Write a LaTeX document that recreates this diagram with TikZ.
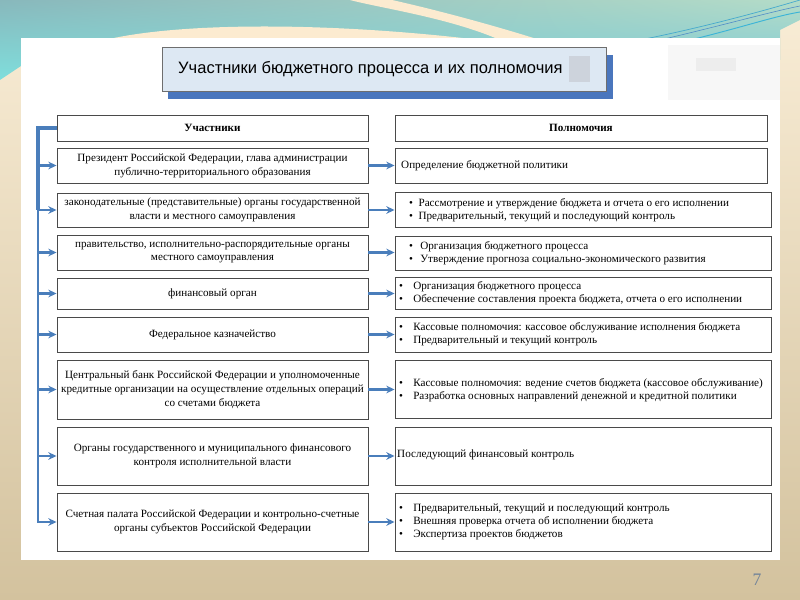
\documentclass[tikz,border=0pt]{standalone}
\usepackage{fontspec}
\setmainfont{Liberation Serif}
\newfontfamily\titlefont{Liberation Sans}
\usetikzlibrary{arrows.meta,fit,shadings}
\definecolor{arrowblue}{HTML}{4A7EBB}
\definecolor{boxgrey}{HTML}{4A4A4A}
\definecolor{cream}{HTML}{FCEBD0}
\definecolor{bgtop}{HTML}{F9EDD6}
\definecolor{bgbot}{HTML}{D3C29E}
\definecolor{titlefill}{HTML}{DDE8F3}
\definecolor{titleshadow}{HTML}{4A76BD}
\definecolor{titleborder}{HTML}{6E6E6E}
\definecolor{pagenum}{HTML}{6F8299}
\definecolor{tealUL}{HTML}{88B8BC}
\definecolor{tealUR}{HTML}{B4DCC8}
\definecolor{tealLL}{HTML}{7FDEDC}
\definecolor{tealLR}{HTML}{7CC9D6}
\definecolor{lineA}{HTML}{46AACD}
\definecolor{lineB}{HTML}{508CC8}
\definecolor{lineC}{HTML}{3CB4D7}
\definecolor{markgrey}{HTML}{CDD3DC}
\newcommand{\bodyfont}{\fontsize{9.5}{11.2}\selectfont}
\newcommand{\leftfont}{\fontsize{9.5}{11.8}\selectfont}
\newcommand{\bulA}{\makebox[8pt][l]{•}}
\newcommand{\bulB}{\makebox[12pt][l]{•}}
\tikzset{
  box/.style={draw=boxgrey, line width=0.8pt, fill=white, inner sep=0pt},
  ltext/.style={inner sep=0pt, align=center, font=\leftfont},
  conn/.style={draw=arrowblue, line width=2pt, -{Stealth[length=7pt,width=6.5pt]}},
  busline/.style={draw=arrowblue, line width=2pt},
  rtext/.style={anchor=west, inner sep=0pt, align=left, font=\bodyfont},
}
\begin{document}
\begin{tikzpicture}[x=0.03cm,y=-0.03cm]
\useasboundingbox (0,0) rectangle (800,600);
% background
\shade[top color=bgtop, bottom color=bgbot] (0,0) rectangle (800,600);
\shade[upper left=tealUL, upper right=tealUR, lower left=tealLL, lower right=tealLR]
  (0,0) -- (800,0) -- (800,20) .. controls (792,24) .. (780,30) -- (780,60) -- (21,60) -- (21,66) -- (0,80) -- cycle;
\fill[cream] (105,40) .. controls (180,22) and (330,22) .. (480,40) -- cycle;
\fill[cream] (350,0) .. controls (380,8) and (450,18) .. (500,40) -- (540,40) .. controls (470,18) and (410,4) .. (392,0) -- cycle;
\draw[lineA, line width=0.6pt] (640,40) .. controls (700,28) and (760,12) .. (800,0);
\draw[lineB, line width=0.5pt] (660,40) .. controls (720,26) and (770,12) .. (800,6);
\draw[lineC, line width=0.8pt] (690,40) .. controls (740,28) and (775,16) .. (800,12);
% panel
\fill[white] (21,38) rectangle (780,560);
% blurred marks
\fill[gray!6] (668,45) rectangle (780,100);
\fill[gray!14] (696,58) rectangle (736,71);
% title
\fill[titleshadow] (168,55) rectangle (613,99);
\node[draw=titleborder, fill=titlefill, line width=0.8pt, inner sep=0pt, fit={(162,47) (606,91)}] (title) {};
\fill[markgrey] (569,56) rectangle (590,82);
\node[anchor=west, inner sep=0pt, font=\titlefont\fontsize{14.1}{16}\selectfont] (titletext) at (178,69.5) {Участники бюджетного процесса и их полномочия};
% left column
\node[box, fit={(57,115) (368,141)}] (l0) {};
\node[box, fit={(57,148) (368,183)}] (l1) {};
\node[box, fit={(57,193) (368,227)}] (l2) {};
\node[box, fit={(57,235) (368,270)}] (l3) {};
\node[box, fit={(57,278) (368,309)}] (l4) {};
\node[box, fit={(57,317) (368,352)}] (l5) {};
\node[box, fit={(57,360) (368,419)}] (l6) {};
\node[box, fit={(57,427) (368,485)}] (l7) {};
\node[box, fit={(57,493) (368,551)}] (l8) {};
\node[ltext, font=\leftfont\bfseries] (s0) at (l0.center) {Участники};
\node[ltext] (s1) at (l1.center) {Президент Российской Федерации, глава администрации\\публично-территориального образования};
\node[ltext] (s2) at (l2.center) {законодательные (представительные) органы государственной\\власти и местного самоуправления};
\node[ltext] (s3) at (l3.center) {правительство, исполнительно-распорядительные органы\\местного самоуправления};
\node[ltext] (s4) at (l4.center) {финансовый орган};
\node[ltext] (s5) at (l5.center) {Федеральное казначейство};
\node[ltext] (s6) at (l6.center) {Центральный банк Российской Федерации и уполномоченные\\кредитные организации на осуществление отдельных операций\\со счетами бюджета};
\node[ltext] (s7) at (l7.center) {Органы государственного и муниципального финансового\\контроля исполнительной власти};
\node[ltext] (s8) at (l8.center) {Счетная палата Российской Федерации и контрольно-счетные\\органы субъектов Российской Федерации};
% right column
\node[box, fit={(395,115) (767,141)}] (r0) {};
\node[box, fit={(395,148) (767,183)}] (r1) {};
\node[box, fit={(395,192) (771,227)}] (r2) {};
\node[box, fit={(395,236) (771,270)}] (r3) {};
\node[box, fit={(395,277) (771,309)}] (r4) {};
\node[box, fit={(395,317) (771,352)}] (r5) {};
\node[box, fit={(395,360) (771,418)}] (r6) {};
\node[box, fit={(395,427) (771,485)}] (r7) {};
\node[box, fit={(395,493) (771,551)}] (r8) {};
\node[ltext, font=\leftfont\bfseries] (t0) at (r0.center) {Полномочия};
\node[rtext] (t1) at (401,166) {Определение бюджетной политики};
\node[rtext] (t2) at (409,210) {\bulA Рассмотрение и утверждение бюджета и отчета о его исполнении\\\bulA Предварительный, текущий и последующий контроль};
\node[rtext] (t3) at (409,253.5) {\bulA\hspace{1.5pt}Организация бюджетного процесса\\\bulA\hspace{1.5pt}Утверждение прогноза социально-экономического развития};
\node[rtext] (t4) at (399,293) {\bulB Организация бюджетного процесса\\\bulB Обеспечение составления проекта бюджета, отчета о его исполнении};
\node[rtext] (t5) at (399,334) {\bulB Кассовые полномочия: кассовое обслуживание исполнения бюджета\\\bulB Предварительный и текущий контроль};
\node[rtext] (t6) at (399,390) {\bulB Кассовые полномочия: ведение счетов бюджета (кассовое обслуживание)\\\bulB Разработка основных направлений денежной и кредитной политики};
\node[rtext] (t7) at (397,455) {Последующий финансовый контроль};
\node[rtext] (t8) at (399,522) {\bulB Предварительный, текущий и последующий контроль\\\bulB Внешняя проверка отчета об исполнении бюджета\\\bulB Экспертиза проектов бюджетов};
% bus
\coordinate (bus) at (38,0);
\draw[busline, line width=3pt] (l0.west) -- (l0.west -| bus) -- (l2.west -| bus);
\draw[conn] (l0.west -| bus) -- (l8.west -| bus) -- (l8.west);
\foreach \i in {1,...,7} {\draw[conn] (l\i.west -| bus) -- (l\i.west);}
% connectors between columns
\foreach \i in {1,...,8} {\draw[conn] (l\i.east) -- (l\i.east -| r\i.west);}
% page number
\node[text=pagenum, font=\fontsize{15}{18}\selectfont] (page) at (757,580) {7};
\end{tikzpicture}
\end{document}
